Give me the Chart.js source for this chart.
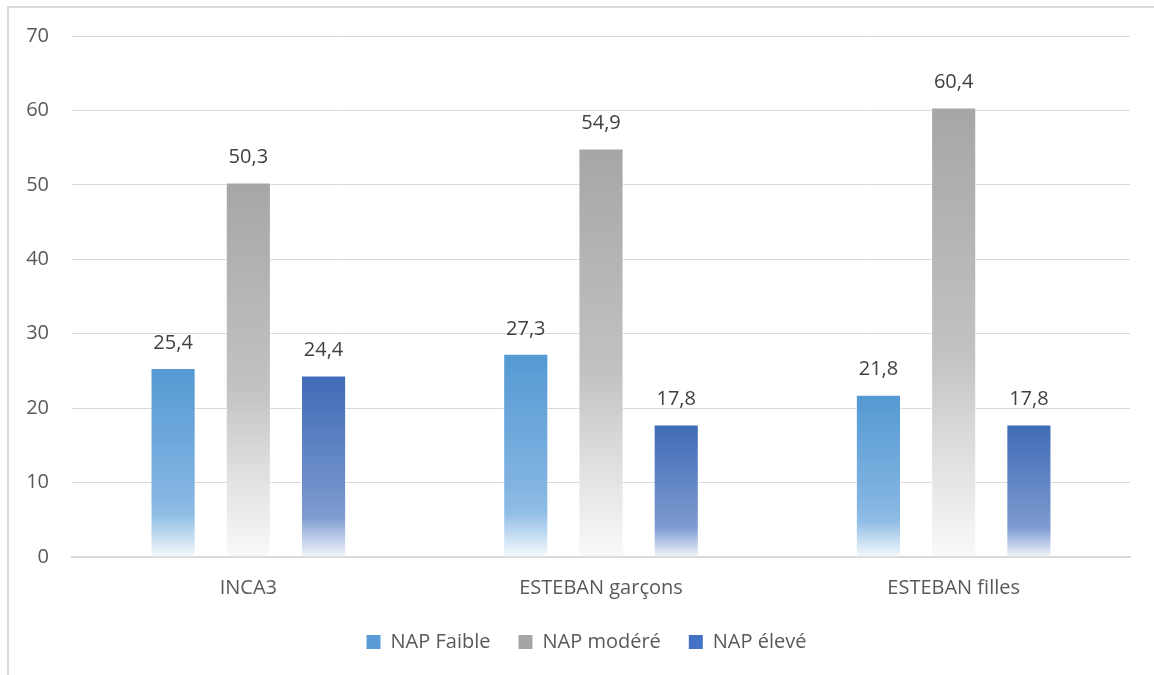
<!DOCTYPE html>
<html>
<head>
<meta charset="utf-8">
<script src="https://cdn.jsdelivr.net/npm/chart.js@4.4.0/dist/chart.umd.min.js"></script>
<style>
  html, body { margin: 0; padding: 0; background: #fff; }
  #wrap {
    position: absolute; left: 7px; top: 6px; width: 1147px; height: 669px;
    border-left: 2px solid #D9D9D9; border-top: 2px solid #D9D9D9;
  }
</style>
</head>
<body>
<div id="wrap"><canvas id="barChart" width="1145" height="667"></canvas></div>
<script>
// Données
const categories = ['INCA3', 'ESTEBAN garçons', 'ESTEBAN filles'];
const seriesNames = ['NAP Faible', 'NAP modéré', 'NAP élevé'];
const napFaible = [25.4, 27.3, 21.8];
const napModere = [50.3, 54.9, 60.4];
const napEleve = [24.4, 17.8, 17.8];
const yTicks = [0, 10, 20, 30, 40, 50, 60, 70];

const FONT = '"Open Sans", "Noto Sans", sans-serif';

// couleurs de dégradé : haut de la barre -> bas
const palettes = [
    { solid: '#5B9BD5', stops: [[0, '#5499D3'], [0.6, '#7DB1E0'], [0.78, '#8FBDE5'], [1, '#F6FAFD']] },
    { solid: '#A5A5A5', stops: [[0, '#A6A6A6'], [0.55, '#C2C2C2'], [0.75, '#DCDCDC'], [1, '#F8F9FA']] },
    { solid: '#4472C4', stops: [[0, '#3F6BB6'], [0.6, '#6F8FCA'], [0.78, '#7F9BD2'], [1, '#F3F5FB']] }
];

function barGradient(i) {
    return function (ctx) {
        const pal = palettes[i];
        const chart = ctx.chart;
        if (ctx.type !== 'data' || !chart.chartArea) return pal.solid;
        const y = chart.scales.y;
        const top = y.getPixelForValue(ctx.raw);
        const bottom = y.getPixelForValue(0);
        const g = chart.ctx.createLinearGradient(0, top, 0, bottom);
        pal.stops.forEach(s => g.addColorStop(s[0], s[1]));
        return g;
    };
}

// étiquettes de valeurs au-dessus des barres
const valueLabels = {
    id: 'valueLabels',
    afterDatasetsDraw(chart) {
        const ctx = chart.ctx;
        ctx.save();
        ctx.font = '20px ' + FONT;
        ctx.fillStyle = '#404040';
        ctx.textAlign = 'center';
        ctx.textBaseline = 'middle';
        chart.data.datasets.forEach((ds, di) => {
            chart.getDatasetMeta(di).data.forEach((bar, i) => {
                ctx.fillText(String(ds.data[i]).replace('.', ','), bar.x, bar.y - 25);
            });
        });
        ctx.restore();
    }
};

// décale un peu la légende vers la droite (centrée sur la zone de tracé)
const legendShift = {
    id: 'legendShift',
    afterLayout(chart) {
        chart.legend.left += 17;
        chart.legend.right += 17;
    }
};

const allSeries = [napFaible, napModere, napEleve];

new Chart(document.getElementById('barChart').getContext('2d'), {
    type: 'bar',
    data: {
        labels: categories,
        datasets: allSeries.map((vals, i) => ({
            label: seriesNames[i],
            data: vals,
            backgroundColor: barGradient(i),
            borderColor: 'rgba(255,255,255,0.6)',
            borderWidth: 1,
            categoryPercentage: 0.64,
            barPercentage: 0.6
        }))
    },
    options: {
        responsive: false,
        animation: false,
        layout: { padding: { top: 28, right: 24, bottom: 13, left: 0 } },
        plugins: {
            tooltip: { enabled: false },
            legend: {
                position: 'bottom',
                labels: {
                    color: '#595959',
                    font: { size: 20, family: FONT },
                    boxWidth: 14,
                    boxHeight: 14,
                    padding: 28,
                    generateLabels(chart) {
                        return seriesNames.map((name, i) => ({
                            text: name,
                            fillStyle: palettes[i].solid,
                            strokeStyle: palettes[i].solid,
                            lineWidth: 0,
                            fontColor: '#595959',
                            datasetIndex: i
                        }));
                    }
                }
            }
        },
        scales: {
            x: {
                grid: { display: false, drawTicks: false },
                border: { color: '#D9D9D9', width: 2 },
                ticks: {
                    color: '#595959',
                    padding: 19,
                    font: { size: 20, family: FONT }
                },
                afterFit(s) { s.height = 47; }
            },
            y: {
                min: 0,
                max: 70,
                afterBuildTicks(s) { s.ticks = yTicks.map(v => ({ value: v })); },
                grid: { color: '#D9D9D9', lineWidth: 1, drawTicks: false },
                border: { display: false },
                ticks: {
                    color: '#595959',
                    padding: 23,
                    font: { size: 20, family: FONT }
                },
                afterFit(s) { s.width = 63; s.paddingTop = 0; s.paddingBottom = 0; }
            }
        }
    },
    plugins: [valueLabels, legendShift]
});
</script>
</body>
</html>
